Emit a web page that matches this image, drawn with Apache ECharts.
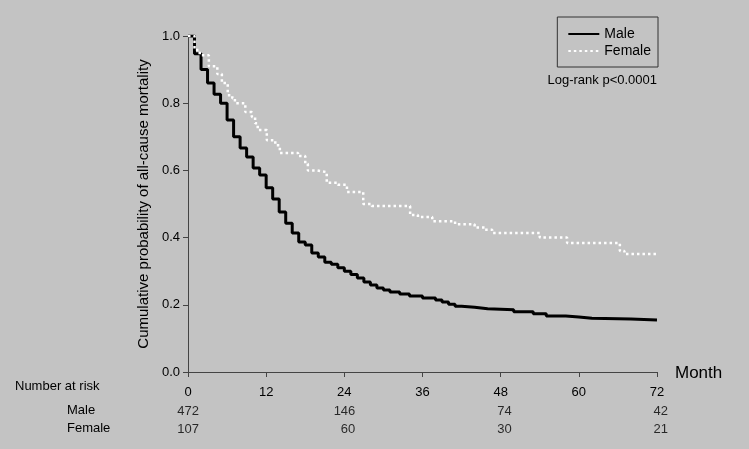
<!DOCTYPE html>
<html>
<head>
<meta charset="utf-8">
<script src="https://cdn.jsdelivr.net/npm/echarts@6/dist/echarts.min.js"></script>
<style>
  html, body { margin: 0; padding: 0; background: #c3c3c3; }
  #chart { width: 749px; height: 449px; }
</style>
</head>
<body>
<div id="chart"></div>
<script>
// Kaplan-Meier steps: [month, cumulative probability]
var maleSteps = [
  [0, 1.0], [1, 0.947], [2, 0.90], [3, 0.86], [4, 0.827], [5, 0.80], [6, 0.75],
  [7, 0.70], [8, 0.667], [9, 0.64], [10, 0.607], [11, 0.586], [12, 0.548],
  [13, 0.515], [14, 0.476], [15, 0.443], [16, 0.414], [17, 0.387], [18, 0.378],
  [19, 0.354], [20, 0.342], [21, 0.327], [22, 0.321], [23, 0.31], [24, 0.30],
  [25, 0.29], [26, 0.28], [27, 0.268], [28, 0.259], [29, 0.25], [30, 0.244],
  [31, 0.238], [32.5, 0.232], [34, 0.226], [36, 0.22], [38, 0.214], [39, 0.208],
  [40, 0.202], [41, 0.196], [42, 0.193], [44, 0.188], [46, 0.185], [50, 0.179],
  [53, 0.173], [55, 0.167], [58, 0.164], [60, 0.16], [62, 0.158], [68, 0.155],
  [72, 0.155]
];
var femaleSteps = [
  [0, 1.0], [1, 0.958], [1.8, 0.943], [3.2, 0.91], [4.5, 0.887], [5.2, 0.86],
  [6.1, 0.824], [6.8, 0.815], [7.2, 0.80], [8.8, 0.774], [9.8, 0.759],
  [10.3, 0.74], [10.7, 0.72], [12.1, 0.69], [13.4, 0.675], [14.1, 0.652],
  [16.9, 0.643], [18, 0.62], [18.4, 0.60], [19.8, 0.595], [21.3, 0.563],
  [23, 0.557], [24.4, 0.536], [26.9, 0.50], [28.2, 0.494], [34.1, 0.467],
  [35.3, 0.461], [37.5, 0.449], [41, 0.44], [44, 0.43], [45.6, 0.423],
  [46.7, 0.414], [54, 0.40], [58.2, 0.384], [66.3, 0.36], [67, 0.351], [72, 0.351]
];
var riskMonths = [0, 24, 48, 72];
var riskMale = [472, 146, 74, 42];
var riskFemale = [107, 60, 30, 21];

var font = "'Liberation Sans', Arial, sans-serif";
var chart = echarts.init(document.getElementById("chart"));

var riskData = [];
for (var i = 0; i < riskMonths.length; i++) {
  riskData.push({ value: [riskMonths[i], 1], n: riskMale[i] });
  riskData.push({ value: [riskMonths[i], 0], n: riskFemale[i] });
}

chart.setOption({
  backgroundColor: "#c3c3c3",
  animation: false,
  textStyle: { fontFamily: font },
  grid: [
    { left: 188, right: 92, top: 36, bottom: 77 },
    { left: 188, right: 92, top: 411, height: 18 }
  ],
  legend: {
    orient: "vertical",
    right: 91,
    top: 17,
    padding: [10, 7, 9, 10],
    itemWidth: 31,
    itemHeight: 10,
    itemGap: 3,
    borderColor: "#333",
    borderWidth: 1,
    itemStyle: { opacity: 0 },
    textStyle: { fontSize: 14, color: "#000", fontFamily: font },
    data: ["Male", "Female"]
  },
  graphic: [
    { type: "text", right: 92, top: 74, style: { text: "Log-rank p<0.0001", font: "13px " + font, fill: "#000" } },
    { type: "text", left: 15, top: 380, style: { text: "Number at risk", font: "13px " + font, fill: "#000" } },
    { type: "text", left: 67, top: 404, style: { text: "Male", font: "13px " + font, fill: "#000" } },
    { type: "text", left: 67, top: 422, style: { text: "Female", font: "13px " + font, fill: "#000" } }
  ],
  xAxis: [
    {
      type: "value", gridIndex: 0, min: 0, max: 72, interval: 12,
      name: "Month", nameLocation: "end", nameGap: 18,
      nameTextStyle: { fontSize: 17, color: "#000", verticalAlign: "top", padding: [-7, 0, 0, 0] },
      axisLine: { lineStyle: { color: "#444", width: 1 } },
      axisTick: { show: true, length: 5, lineStyle: { color: "#444" } },
      axisLabel: { color: "#000", fontSize: 13, margin: 14 },
      splitLine: { show: false }
    },
    {
      type: "value", gridIndex: 1, min: 0, max: 72, show: false
    }
  ],
  yAxis: [
    {
      type: "value", gridIndex: 0, min: 0, max: 1, interval: 0.2,
      name: "Cumulative probability of all-cause mortality",
      nameLocation: "middle", nameGap: 37,
      nameTextStyle: { fontSize: 15, color: "#000" },
      axisLine: { show: true, lineStyle: { color: "#444", width: 1 } },
      axisTick: { show: true, length: 5, lineStyle: { color: "#444" } },
      axisLabel: { color: "#000", fontSize: 13, margin: 8, formatter: function (v) { return v.toFixed(1); } },
      splitLine: { show: false }
    },
    {
      type: "value", gridIndex: 1, min: 0, max: 1, show: false
    }
  ],
  series: [
    {
      name: "Male", type: "line", step: "end", xAxisIndex: 0, yAxisIndex: 0,
      data: maleSteps, showSymbol: false, symbol: "none",
      itemStyle: { color: "#000" },
      lineStyle: { color: "#000", width: 3 }
    },
    {
      name: "Female", type: "line", step: "end", xAxisIndex: 0, yAxisIndex: 0,
      data: femaleSteps, showSymbol: false, symbol: "none",
      itemStyle: { color: "#fff" },
      lineStyle: { color: "#fff", width: 2.5, type: [2.5, 3] }
    },
    {
      type: "scatter", xAxisIndex: 1, yAxisIndex: 1, symbolSize: 0,
      data: riskData, silent: true,
      label: {
        show: true, position: "inside", align: "right", offset: [11, 0],
        color: "#000", fontSize: 13,
        formatter: function (p) { return String(p.data.n); }
      }
    }
  ]
});
</script>
</body>
</html>
